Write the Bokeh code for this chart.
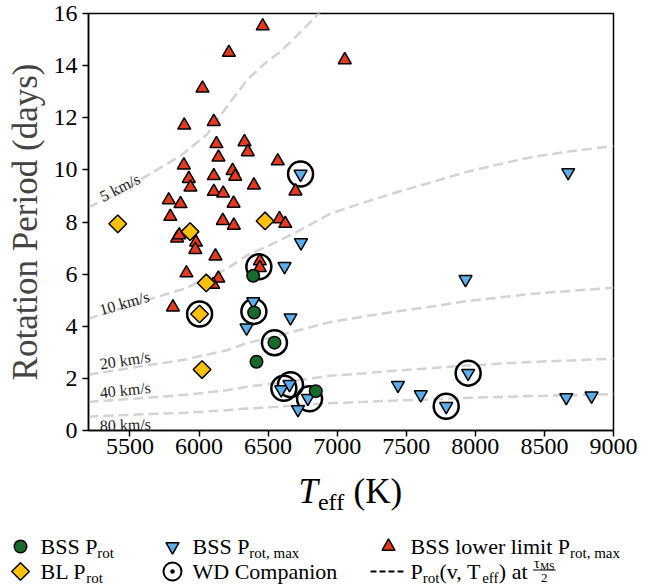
import math
from bokeh.plotting import figure
from bokeh.layouts import column
from bokeh.models import Range1d, FixedTicker
from bokeh.core.properties import value
from bokeh.embed import file_html
from bokeh.resources import INLINE

# ------------------------------------------------------------------ data
bss_prot_teff = [6392, 6399, 6546, 6416, 6845]
bss_prot_p = [5.94, 4.53, 3.37, 2.64, 1.51]

bl_prot_teff = [5412, 5935, 6478, 6052, 6004, 6022]
bl_prot_p = [7.93, 7.63, 8.04, 5.66, 4.47, 2.34]

bss_max_teff = [6735, 6738, 6619, 6392, 6662, 6344, 6595, 6655, 6788, 6716,
                7440, 7605, 7789, 7948, 7929, 8672, 8658, 8841]
bss_max_p = [9.84, 7.21, 6.30, 4.95, 4.33, 3.94, 1.57, 1.77, 1.24, 0.81,
             1.74, 1.38, 0.93, 2.20, 5.80, 9.90, 1.27, 1.33]

bss_lower_teff = [6461, 6216, 6025, 7055, 5893, 6107, 6126, 6329, 6353, 6141,
                  5890, 6570, 5926, 5938, 6107, 6243, 6262, 6107, 6175, 6397,
                  6698, 5781, 5866, 6250, 5792, 6172, 6252, 6582, 6624, 5841,
                  5857, 5978, 5973, 6119, 5909, 6140, 6103, 5811, 6440, 6440]
bss_lower_p = [15.52, 14.50, 13.13, 14.22, 11.71, 11.85, 11.00, 11.07, 10.69, 10.48,
               10.18, 10.34, 9.66, 9.33, 9.77, 9.97, 9.75, 9.17, 9.10, 9.41,
               9.18, 8.84, 8.70, 8.71, 8.21, 8.05, 7.87, 8.12, 7.94, 7.38,
               7.50, 7.22, 6.94, 6.69, 6.04, 5.84, 5.60, 4.73, 6.50, 6.24]

wd_teff = [6735, 6433, 6004, 6397, 6546, 6614, 6662, 6800, 7789, 7948]
wd_p = [9.84, 6.28, 4.47, 4.57, 3.37, 1.62, 1.76, 1.22, 0.93, 2.20]

# dashed P_rot(v, Teff) curves
curve_labels = ["5 km/s", "10 km/s", "20 km/s", "40 km/s", "80 km/s"]
curve_teff_5 = [5200, 5420, 5624, 5866, 6059, 6204, 6349, 6493, 6590, 6700, 6855, 7000]
curve_p_5 = [8.57, 9.10, 9.78, 10.54, 11.37, 12.44, 13.46, 14.16, 14.54, 15.10, 15.94, 16.80]
curve_teff = [5200, 5250, 5400, 5650, 5900, 6200, 6350, 6500, 6700, 6950,
              7200, 7430, 7700, 7920, 8200, 8400, 8700, 9000]
curve_p_10 = [4.28, 4.38, 4.62, 5.05, 5.45, 6.20, 6.73, 7.08, 7.60, 8.32,
              8.76, 9.14, 9.55, 9.90, 10.25, 10.48, 10.72, 10.92]
curve_p_20 = [2.14, 2.19, 2.31, 2.52, 2.72, 3.08, 3.36, 3.54, 3.82, 4.16,
              4.38, 4.57, 4.77, 4.95, 5.12, 5.24, 5.36, 5.48]
curve_p_40 = [1.08, 1.12, 1.17, 1.27, 1.37, 1.54, 1.68, 1.78, 1.92, 2.10,
              2.20, 2.30, 2.40, 2.49, 2.57, 2.63, 2.69, 2.76]
curve_p_80 = [0.53, 0.55, 0.58, 0.63, 0.68, 0.78, 0.84, 0.89, 0.96, 1.05,
              1.10, 1.15, 1.20, 1.25, 1.29, 1.32, 1.36, 1.40]

x_ticks = [5500, 6000, 6500, 7000, 7500, 8000, 8500, 9000]
y_ticks = [0, 2, 4, 6, 8, 10, 12, 14, 16]

# ------------------------------------------------------------------ style
SERIF = "Liberation Serif"
RED = "#E2391F"
BLUE = "#5BAEEA"
GREEN = "#17692C"
YELLOW = "#FDC10A"
GREY = "#D3D3D3"

FT, FB = 13, 430          # frame top / bottom in page pixels
BB = 37                   # bottom border of the main plot
p = figure(output_backend="svg", toolbar_location=None,
           frame_width=525, frame_height=FB - FT,
           min_border_left=88, min_border_right=57,
           min_border_top=FT, min_border_bottom=BB,
           x_range=Range1d(5200, 9000), y_range=Range1d(0, 16))
p.background_fill_color = "white"
p.border_fill_color = "white"
p.outline_line_color = "black"
p.outline_line_width = 1.5
p.xgrid.visible = False
p.ygrid.visible = False
for ax in (p.xaxis[0], p.yaxis[0]):
    ax.axis_line_width = 1.5
    ax.major_tick_line_width = 1.5
    ax.major_tick_out = 6
    ax.major_tick_in = 0
    ax.minor_tick_out = 0
    ax.minor_tick_in = 0
    ax.major_label_text_font = SERIF
    ax.major_label_text_font_size = "24px"
    ax.major_label_text_color = "black"
p.xaxis.major_label_standoff = 2
p.yaxis.major_label_standoff = 5
p.xaxis.ticker = FixedTicker(ticks=x_ticks)
p.yaxis.ticker = FixedTicker(ticks=y_ticks)
p.yaxis.axis_label = "Rotation Period (days)"
p.yaxis.axis_label_text_font = SERIF
p.yaxis.axis_label_text_font_size = "35px"
p.yaxis.axis_label_text_font_style = "normal"
p.yaxis.axis_label_standoff = 6

# curves
dash = "10 5"
p.line(curve_teff_5, curve_p_5, line_color=GREY, line_width=2.5, line_dash=dash)
for ys in (curve_p_10, curve_p_20, curve_p_40, curve_p_80):
    p.line(curve_teff, ys, line_color=GREY, line_width=2.5, line_dash=dash)

# curve labels (anchor positions in data units, angle in degrees)
lab_x = [5288, 5282, 5282, 5282, 5282]
lab_y = [8.95, 4.62, 2.55, 1.45, 0.18]
lab_ang = [27, 16, 8.5, 6, 2]
for t, lx, ly, la in zip(curve_labels, lab_x, lab_y, lab_ang):
    p.text([lx], [ly], text=[t], angle=math.radians(la),
           text_font=value(SERIF), text_font_size=value("16px"),
           text_color="#222222", text_baseline="alphabetic", text_align="left")

# markers
p.scatter(wd_teff, wd_p, marker="circle", size=25, fill_color=None,
          line_color="black", line_width=2.5)
p.scatter(bss_lower_teff, bss_lower_p, marker="triangle", size=13,
          fill_color=RED, line_color="black", line_width=1.5)
p.scatter(bl_prot_teff, bl_prot_p, marker="square", angle=math.pi / 4, size=12.5,
          fill_color=YELLOW, line_color="black", line_width=1.5)
p.scatter(bss_max_teff, bss_max_p, marker="inverted_triangle", size=13,
          fill_color=BLUE, line_color="black", line_width=1.5)
p.scatter(bss_prot_teff, bss_prot_p, marker="circle", size=12.5,
          fill_color=GREEN, line_color="black", line_width=1.5)
p.frame_align = False

# ------------------------------------------------------------------ lower panel: x label + legend
TOP = FB + BB
H2 = 584 - TOP
q = figure(output_backend="svg", toolbar_location=None, width=670, height=H2,
           min_border=0, x_range=Range1d(0, 670), y_range=Range1d(H2, 0))
q.axis.visible = False
q.grid.visible = False
q.outline_line_color = None
q.background_fill_color = "white"
q.border_fill_color = "white"
q.frame_align = False

W_ROMAN = {" ": 250, "(": 333, ")": 333, ",": 250, "/": 278,
           "A": 722, "B": 667, "C": 667, "D": 722, "E": 611, "K": 722, "L": 611,
           "M": 889, "P": 556, "S": 556, "T": 611, "W": 944,
           "a": 444, "b": 500, "c": 444, "d": 500, "e": 444, "f": 333, "h": 500,
           "i": 278, "k": 500, "l": 278, "m": 778, "n": 500, "o": 500, "p": 500,
           "r": 333, "s": 389, "t": 278, "u": 500, "v": 500, "w": 722, "x": 500,
           "y": 500, "τ": 440, "2": 500}
W_ITALIC = {"T": 556}


def width(s, size, italic=False):
    tab = W_ITALIC if italic else W_ROMAN
    return sum(tab.get(c, W_ROMAN.get(c, 500)) for c in s) * size / 1000.0


def put(x, y_page, s, size, italic=False, align="left"):
    q.text([x], [y_page - TOP], text=[s], text_font=value(SERIF),
           text_font_size=value(f"{size}px"), text_color="black",
           text_font_style="italic" if italic else "normal",
           text_baseline="middle", text_align=align)
    return x + width(s, size, italic)


def rich(x, mid, parts):
    for s, size, dy in parts:
        x = put(x, mid + dy, s, size)
    return x


# x axis label  T_eff (K)
xx = 298
xx = put(xx, 491, "T", 35, italic=True)
xx = put(xx, 501, "eff", 24)
xx = put(xx + 9, 491, "(K)", 35)

# legend handles
LF, SF = 22, 15
R1, R2 = 546, 571
q.scatter([20], [R1 - TOP], marker="circle", size=12.5, fill_color=GREEN,
          line_color="black", line_width=1.5)
q.scatter([172], [R1 - TOP], marker="inverted_triangle", size=13, fill_color=BLUE,
          line_color="black", line_width=1.5)
q.scatter([388], [R1 - TOP], marker="triangle", size=13, fill_color=RED,
          line_color="black", line_width=1.5)
q.scatter([20], [R2 - TOP], marker="square", angle=math.pi / 4, size=12.5,
          fill_color=YELLOW, line_color="black", line_width=1.5)
q.scatter([172], [R2 - TOP], marker="circle_dot", size=18, fill_color=None,
          line_color="black", line_width=2)
q.line([370, 406], [R2 - TOP, R2 - TOP], line_color="black", line_width=2,
       line_dash="6 3")

rich(40, R1, [("BSS P", LF, 0), ("rot", SF, 6)])
rich(192, R1, [("BSS P", LF, 0), ("rot, max", SF, 6)])
rich(410, R1, [("BSS lower limit P", LF, 0), ("rot, max", SF, 6)])
rich(40, R2, [("BL P", LF, 0), ("rot", SF, 6)])
rich(192, R2, [("WD Companion", LF, 0)])
xe = rich(410, R2, [("P", LF, 0), ("rot", SF, 6), ("(v, T", LF, 0), ("eff", SF, 6),
                    (") at ", LF, 0)])
# fraction tau_MS / 2
num_w = width("τ", 14) + width("MS", 10)
q.line([xe, xe + num_w + 2], [R2 - 1.5 - TOP, R2 - 1.5 - TOP], line_color="black", line_width=1)
nx = put(xe + 1, R2 - 8, "τ", 14)
put(nx, R2 - 5, "MS", 10)
put(xe + 1 + num_w / 2, R2 + 6, "2", 13, align="center")

layout = column(p, q, spacing=0)
open("out.html", "w").write(file_html(layout, INLINE))
